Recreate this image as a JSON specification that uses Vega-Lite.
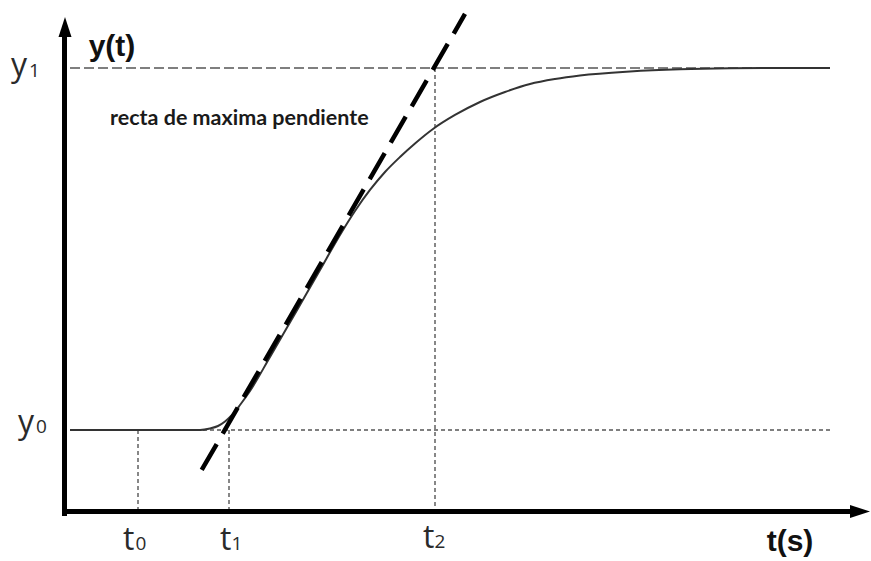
{
  "$schema": "https://vega.github.io/schema/vega-lite/v6.json",
  "width": 871,
  "height": 561,
  "padding": 0,
  "autosize": {"type": "fit", "contains": "padding"},
  "background": "white",
  "config": {"view": {"stroke": null}},
  "encoding": {
    "x": {"field": "t", "type": "quantitative", "scale": {"domain": [-0.67, 8.04], "nice": false, "zero": false}, "axis": null},
    "y": {"field": "v", "type": "quantitative", "scale": {"domain": [-0.3619, 1.1878], "nice": false, "zero": false}, "axis": null}
  },
  "layer": [
    {
      "data": {"values": [
        {"t": 0.03, "v": 1, "t2": 7.63, "v2": 1}
      ]},
      "mark": {"type": "rule", "color": "#555555", "strokeWidth": 1.5, "strokeDash": [10, 4]},
      "encoding": {"x2": {"field": "t2"}, "y2": {"field": "v2"}}
    },
    {
      "data": {"values": [
        {"t": 0.03, "v": 0, "t2": 7.63, "v2": 0},
        {"t": 0.71, "v": 0, "t2": 0.71, "v2": -0.2251},
        {"t": 1.62, "v": 0, "t2": 1.62, "v2": -0.2251},
        {"t": 3.68, "v": 1, "t2": 3.68, "v2": -0.2251}
      ]},
      "mark": {"type": "rule", "color": "#555555", "strokeWidth": 1.4, "strokeDash": [4, 3]},
      "encoding": {"x2": {"field": "t2"}, "y2": {"field": "v2"}}
    },
    {
      "data": {"values": [
        {"t": 0.03, "v": 0}, {"t": 1.33, "v": 0}, {"t": 1.43, "v": 0.0041},
        {"t": 1.51, "v": 0.011}, {"t": 1.58, "v": 0.0235}, {"t": 1.65, "v": 0.0414},
        {"t": 1.73, "v": 0.069}, {"t": 1.83, "v": 0.1077}, {"t": 2.03, "v": 0.2017},
        {"t": 2.33, "v": 0.3453}, {"t": 2.53, "v": 0.442}, {"t": 2.73, "v": 0.5387},
        {"t": 2.88, "v": 0.605}, {"t": 3.03, "v": 0.663}, {"t": 3.18, "v": 0.7127},
        {"t": 3.33, "v": 0.7541}, {"t": 3.48, "v": 0.7914}, {"t": 3.66, "v": 0.8315},
        {"t": 3.88, "v": 0.8702}, {"t": 4.13, "v": 0.9061}, {"t": 4.38, "v": 0.9337},
        {"t": 4.63, "v": 0.9558}, {"t": 4.88, "v": 0.9696}, {"t": 5.13, "v": 0.9793},
        {"t": 5.63, "v": 0.9903}, {"t": 6.13, "v": 0.9964}, {"t": 6.63, "v": 0.9992},
        {"t": 7.13, "v": 1.0}, {"t": 7.63, "v": 1.0}
      ]},
      "mark": {"type": "line", "color": "#333333", "strokeWidth": 2, "interpolate": "monotone"},
      "encoding": {}
    },
    {
      "data": {"values": [
        {"t": 1.347, "v": -0.1105}, {"t": 3.98, "v": 1.1492}
      ]},
      "mark": {"type": "line", "color": "#000000", "strokeWidth": 4.5, "strokeDash": [30, 12]},
      "encoding": {}
    },
    {
      "data": {"values": [
        {"t": -0.025, "v": -0.2376, "t2": -0.025, "v2": 1.09},
        {"t": -0.05, "v": -0.2251, "t2": 7.88, "v2": -0.2251}
      ]},
      "mark": {"type": "rule", "color": "#000000", "strokeWidth": 5},
      "encoding": {"x2": {"field": "t2"}, "y2": {"field": "v2"}}
    },
    {
      "data": {"values": [{"t": -0.02, "v": 1.1133}]},
      "mark": {"type": "point", "shape": "M0,-1L0.65,1L-0.65,1Z", "size": 400, "filled": true, "color": "#000000", "opacity": 1},
      "encoding": {}
    },
    {
      "data": {"values": [{"t": 7.93, "v": -0.2251}]},
      "mark": {"type": "point", "shape": "M1,0L-1,0.65L-1,-0.65Z", "size": 400, "filled": true, "color": "#000000", "opacity": 1},
      "encoding": {}
    },
    {
      "data": {"values": [
        {"t": -0.56, "v": 0.9779, "label": "y"},
        {"t": -0.49, "v": -0.0083, "label": "y"},
        {"t": 0.56, "v": -0.3315, "label": "t"},
        {"t": 1.53, "v": -0.3315, "label": "t"},
        {"t": 3.56, "v": -0.326, "label": "t"}
      ]},
      "mark": {"type": "text", "font": "Open Sans", "fontSize": 32, "color": "#2a2a2a", "align": "left", "baseline": "alphabetic"},
      "encoding": {"text": {"field": "label"}}
    },
    {
      "data": {"values": [
        {"t": -0.38, "v": 0.9751, "label": "1"},
        {"t": -0.31, "v": -0.0083, "label": "0"},
        {"t": 0.685, "v": -0.3315, "label": "0"},
        {"t": 1.645, "v": -0.3315, "label": "1"},
        {"t": 3.675, "v": -0.326, "label": "2"}
      ]},
      "mark": {"type": "text", "font": "Open Sans", "fontSize": 19, "color": "#2a2a2a", "align": "left", "baseline": "alphabetic"},
      "encoding": {"text": {"field": "label"}}
    },
    {
      "data": {"values": [
        {"t": 0.45, "v": 1.033, "label": "y(t)"},
        {"t": 7.23, "v": -0.3343, "label": "t(s)"}
      ]},
      "mark": {"type": "text", "font": "Liberation Sans", "fontWeight": "bold", "fontSize": 30, "color": "#111111", "align": "center", "baseline": "alphabetic"},
      "encoding": {"text": {"field": "label"}}
    },
    {
      "data": {"values": [
        {"t": 0.43, "v": 0.8425, "label": "recta de maxima pendiente"}
      ]},
      "mark": {"type": "text", "font": "Lato", "fontWeight": "bold", "fontSize": 21.5, "color": "#1a1a1a", "align": "left", "baseline": "alphabetic"},
      "encoding": {"text": {"field": "label"}}
    }
  ]
}
